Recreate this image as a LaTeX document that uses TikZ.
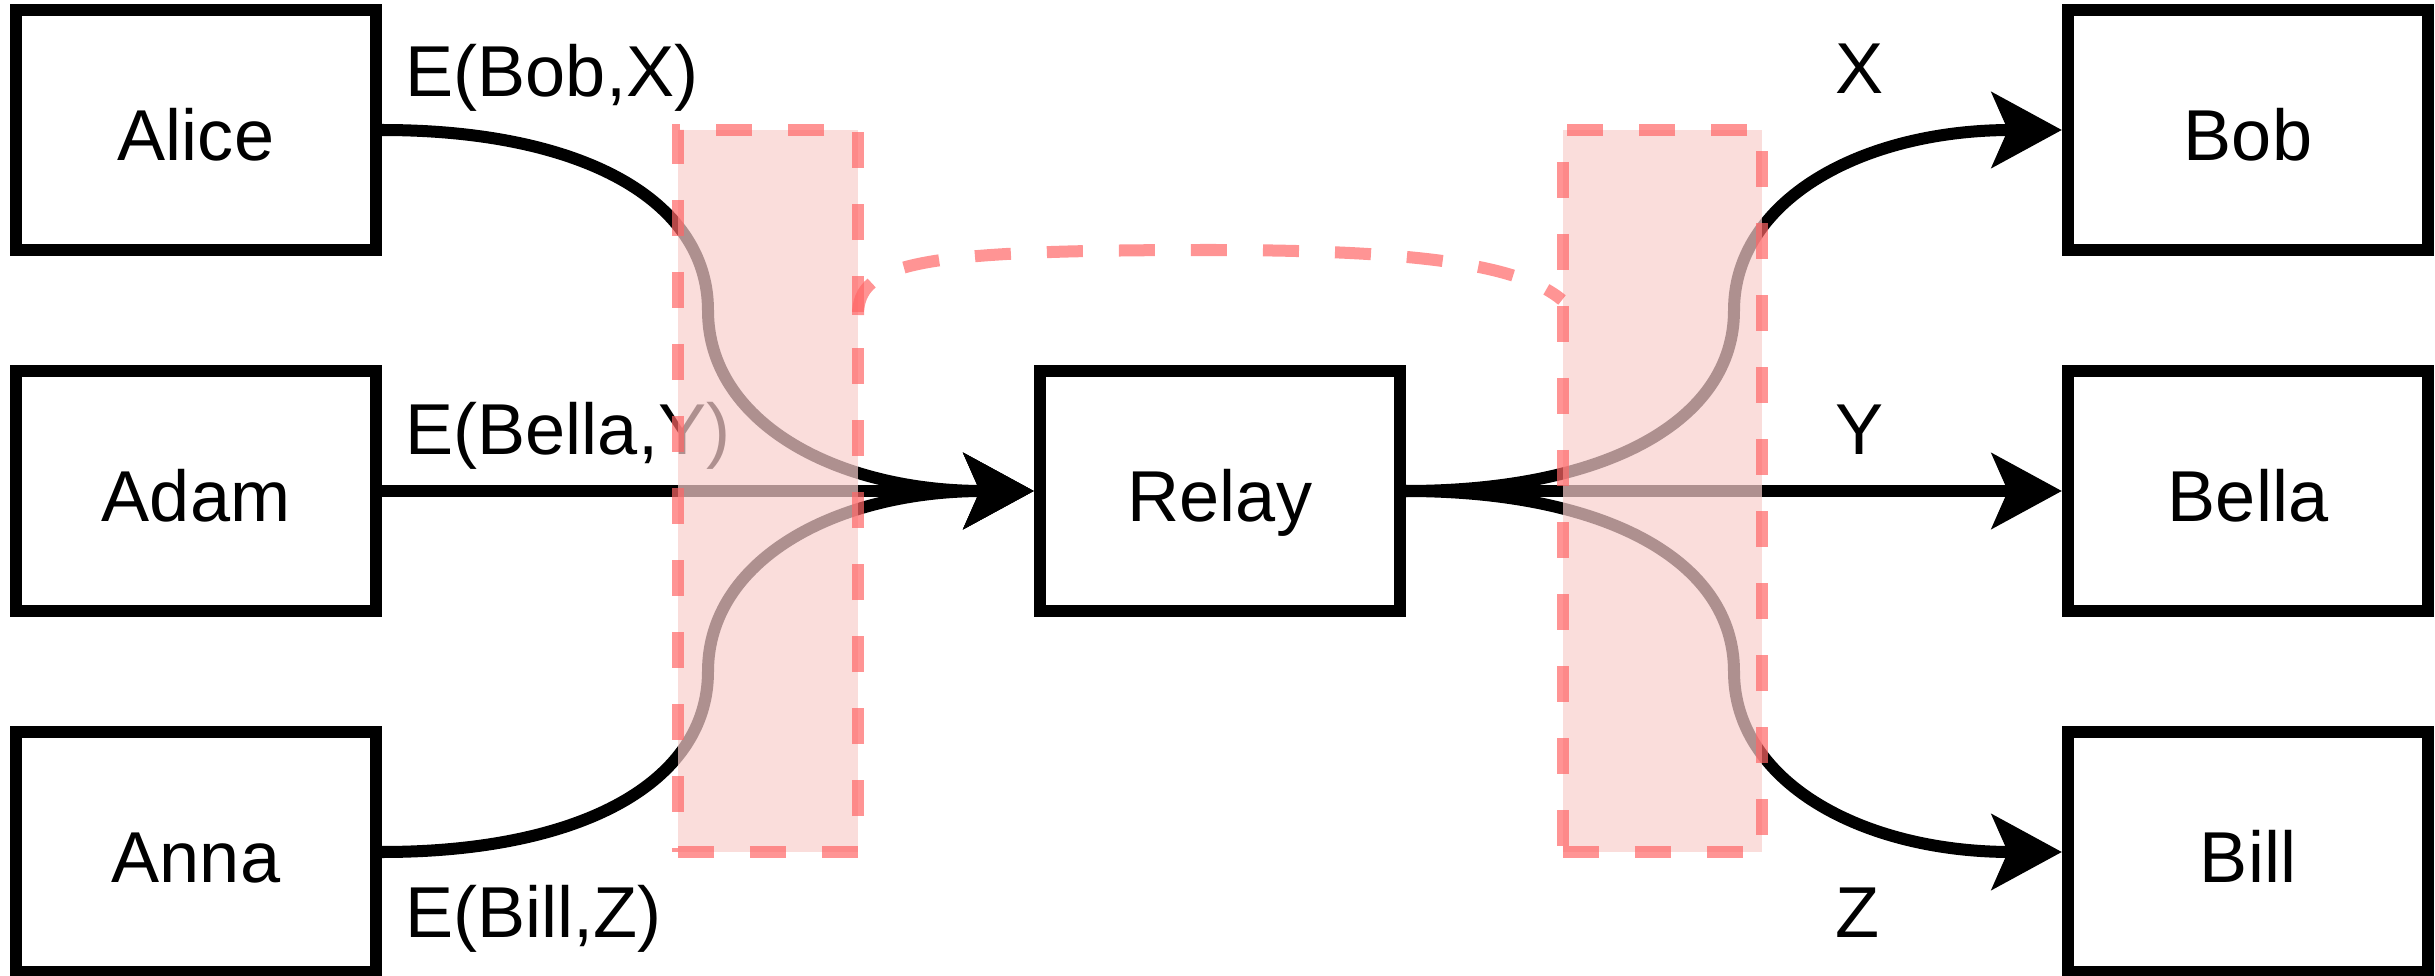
\documentclass[tikz,border=0pt]{standalone}
\usepackage{fontspec}
\setmainfont{Liberation Sans}
\usetikzlibrary{arrows.meta}
\definecolor{pinkfill}{HTML}{F8CECC}
\definecolor{reddash}{HTML}{FF6666}
\begin{document}
\begin{tikzpicture}[x=0.01cm,y=-0.01cm,
  font=\fontsize{20.5pt}{24pt}\selectfont,
  box/.style={draw=black, line width=0.12cm, minimum width=3.6cm, minimum height=2.4cm, inner sep=0pt, text height=0.6cm, text depth=0pt},
  conn/.style={line width=0.12cm, -{Stealth[length=0.70cm, width=0.75cm, inset=0.16cm]}},
  lbl/.style={inner sep=0pt},
  zone/.style={fill=pinkfill, fill opacity=0.7, draw=reddash, draw opacity=0.7, line width=0.12cm, dash pattern=on 0.36cm off 0.36cm, inner sep=0pt},
  link/.style={draw=reddash, draw opacity=0.7, line width=0.12cm, dash pattern=on 0.36cm off 0.36cm}
]
\useasboundingbox (0,0) rectangle (2435,976);

\node[box] (alice) at (196,130) {Alice};
\node[box] (adam)  at (196,491) {Adam};
\node[box] (anna)  at (196,852) {Anna};
\node[box] (relay) at (1220,491) {Relay};
\node[box] (bob)   at (2248,130) {Bob};
\node[box] (bella) at (2248,491) {Bella};
\node[box] (bill)  at (2248,852) {Bill};

\coordinate (ml1) at (708,310.5);
\coordinate (ml2) at (708,671.5);
\coordinate (mr1) at (1734,310.5);
\coordinate (mr2) at (1734,671.5);

\draw[conn] (alice.east) .. controls (582,130) and (708,200) .. (ml1)
                         .. controls (708,421) and (834,491) .. (relay.west);
\draw[conn] (adam.east) -- (relay.west);
\draw[conn] (anna.east) .. controls (582,852) and (708,782) .. (ml2)
                        .. controls (708,561) and (834,491) .. (relay.west);
\draw[conn] (relay.east) .. controls (1606,491) and (1734,421) .. (mr1)
                         .. controls (1734,200) and (1862,130) .. (bob.west);
\draw[conn] (relay.east) -- (bella.west);
\draw[conn] (relay.east) .. controls (1606,491) and (1734,561) .. (mr2)
                         .. controls (1734,782) and (1862,852) .. (bill.west);

\node[lbl, anchor=base west] (lab1) at (405,97) {E(Bob,X)};
\node[lbl, anchor=base west] (lab2) at (405,455) {E(Bella,Y)};
\node[lbl, anchor=base west] (lab3) at (405,937) {E(Bill,Z)};
\node[lbl, anchor=base] (lab4) at (1860,94) {X};
\node[lbl, anchor=base] (lab5) at (1860,455) {Y};
\node[lbl, anchor=base] (lab6) at (1858,937) {Z};

\node[zone, minimum width=1.8cm, minimum height=7.22cm] (zl) at (768,491) {};
\node[zone, minimum width=1.99cm, minimum height=7.22cm] (zr) at (1662.5,491) {};

\coordinate (d1) at (858,315);
\coordinate (d2) at (1562,300);
\draw[link] (d1) .. controls (858,262) and (920,250) .. (1210,250) .. controls (1420,250) and (1520,265) .. (d2);
\end{tikzpicture}
\end{document}
